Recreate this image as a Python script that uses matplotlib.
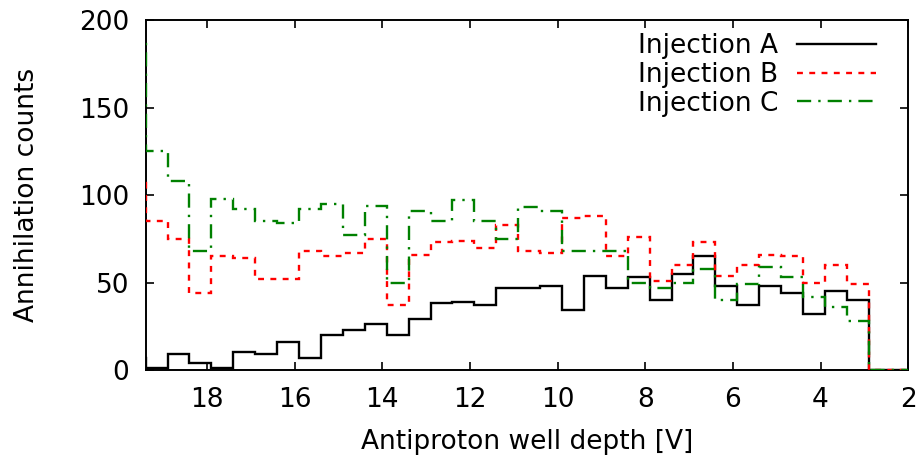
import numpy as np
import matplotlib
matplotlib.use("Agg")
import matplotlib.pyplot as plt

# bin edges of the histograms, from the deepest well down to 1.9 V
edges = np.arange(19.9, 1.85, -0.5)

# annihilation counts per 0.5 V bin, listed from 19.9 V downward
injection_a = [7, 1, 9, 4, 1, 10, 9, 16, 7, 20, 23, 26, 20,
               29, 38, 39, 37, 47, 47, 48, 34, 54, 47, 53,
               40, 55, 65, 48, 37, 48, 44, 32, 45, 40, 0, 0]
injection_b = [107, 85, 75, 44, 65, 64, 52, 52, 68, 65, 67, 75, 37,
               66, 73, 74, 70, 83, 68, 67, 87, 88, 65, 76,
               51, 60, 73, 54, 60, 66, 65, 50, 60, 49, 0, 0]
injection_c = [190, 125, 108, 68, 98, 92, 85, 84, 92, 95, 77, 94, 50,
               91, 85, 97, 85, 75, 93, 91, 68, 68, 68, 50,
               47, 50, 58, 40, 49, 59, 53, 42, 36, 28, 0, 0]

plt.rcParams["font.family"] = "DejaVu Sans"
fig = plt.figure(figsize=(9.22, 4.59), dpi=100)
ax = fig.add_axes([0.158, 0.194, 0.827, 0.762])

ax.stairs(injection_a, edges, color="black", linewidth=1.7,
          label="Injection A", zorder=3)
ax.stairs(injection_b, edges, color="#ff0000", linewidth=1.7,
          linestyle=(0, (2.5, 2.7)), label="Injection B", zorder=3)
ax.stairs(injection_c, edges, color="#008000", linewidth=1.7,
          linestyle=(0, (6, 3, 1, 3)), label="Injection C", zorder=3)

ax.set_xlim(19.4, 2)
ax.set_ylim(0, 200)
ax.set_xticks([18, 16, 14, 12, 10, 8, 6, 4, 2])
ax.set_yticks([0, 50, 100, 150, 200])
ax.tick_params(direction="in", length=6, width=1.2, top=True, right=True,
               labelsize=19, pad=12)
for s in ax.spines.values():
    s.set_linewidth(1.4)

ax.set_xlabel("Antiproton well depth [V]", fontsize=19)
ax.set_ylabel("Annihilation counts", fontsize=19)
ax.xaxis.set_label_coords(0.5, -0.168)
ax.yaxis.set_label_coords(-0.138, 0.5)

ax.legend(loc="upper right", bbox_to_anchor=(0.975, 1.0), frameon=False,
          fontsize=19, markerfirst=False, handlelength=3.0,
          labelspacing=0.1, borderaxespad=0.2, handletextpad=0.7,
          borderpad=0.3)

fig.savefig("out.png", dpi=100)
